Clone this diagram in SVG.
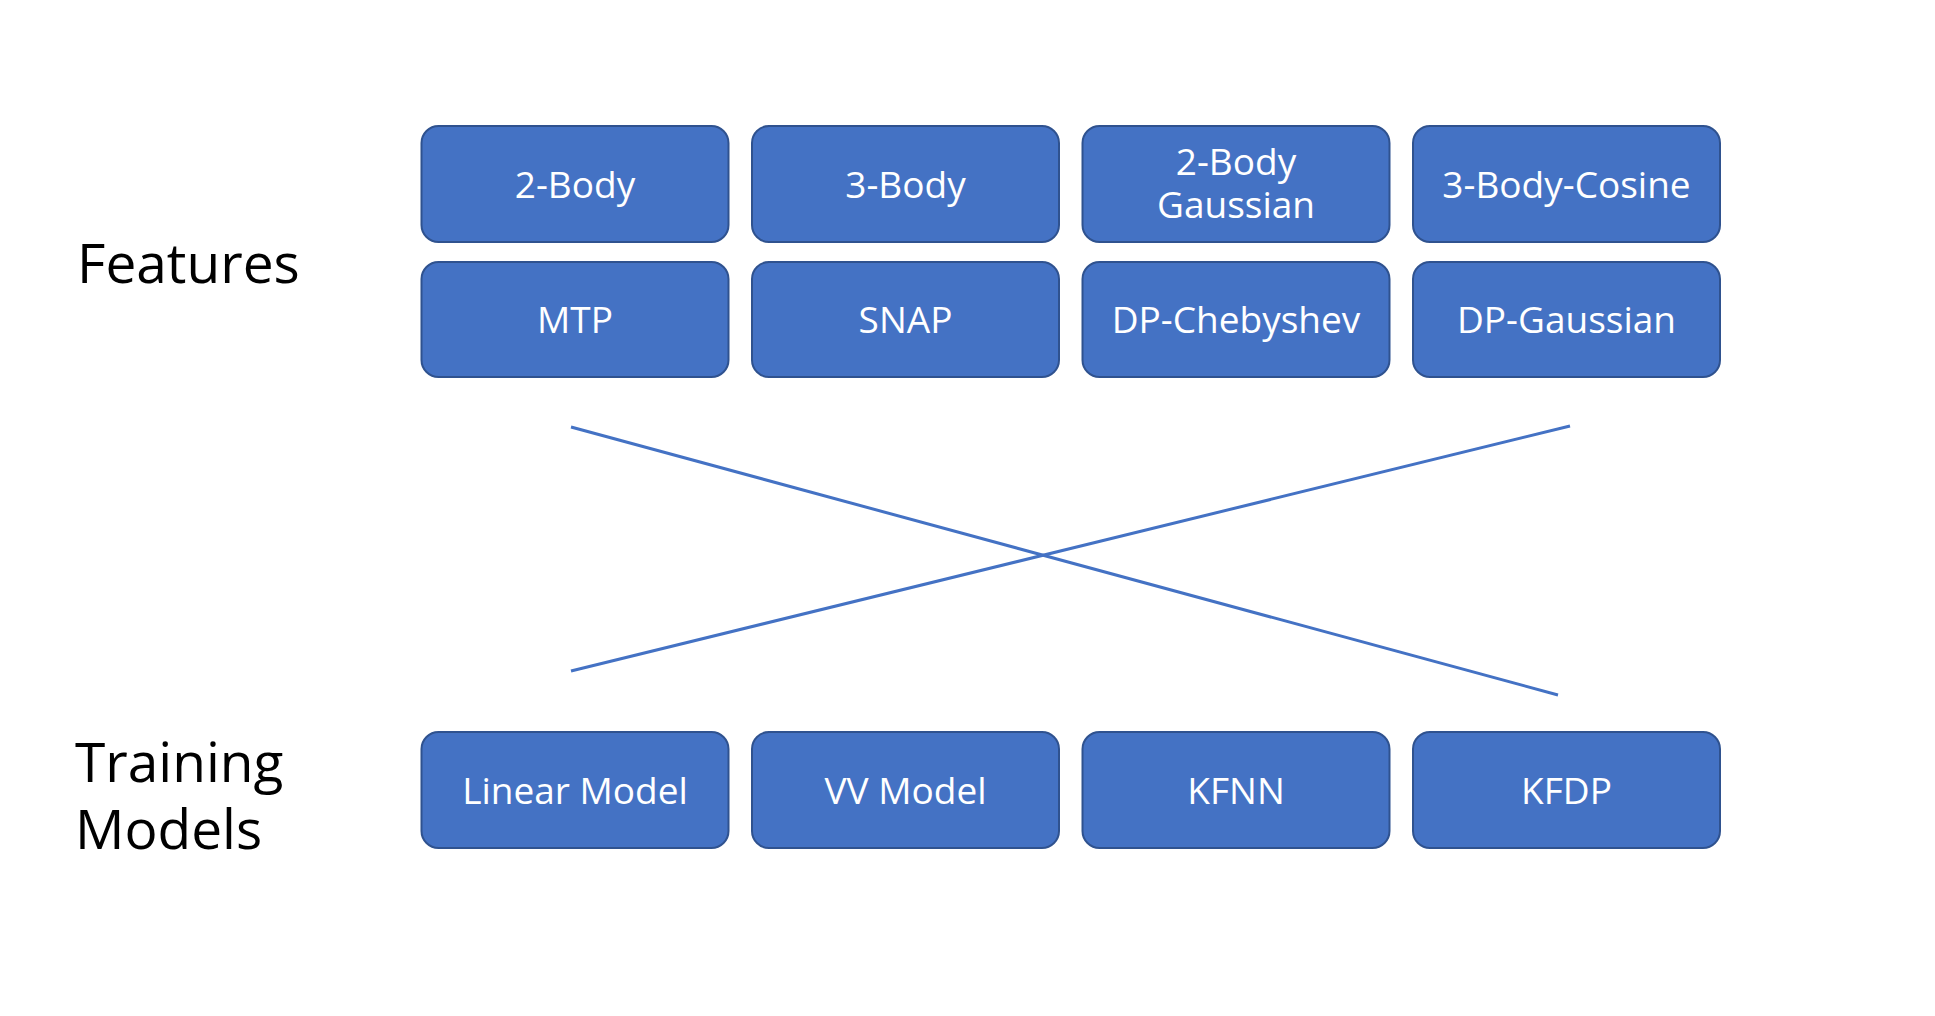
<svg xmlns="http://www.w3.org/2000/svg" width="1935" height="1016" viewBox="0 0 1935 1016">
<style>
.box{fill:#4472C4;stroke:#2F528F;stroke-width:2}
.bt{font-family:"Open Sans","Noto Sans","Liberation Sans",sans-serif;font-size:37px;fill:#FFFFFF;text-anchor:middle}
.lbl{font-family:"Open Sans","Noto Sans","Liberation Sans",sans-serif;font-size:55px;fill:#000000}
.conn{stroke:#4472C4;stroke-width:3;fill:none}
</style>
<rect width="1935" height="1016" fill="#FFFFFF"/>
<g id="label-features"><text class="lbl" x="77" y="283">Features</text></g>
<g id="label-training"><text class="lbl" x="75" y="782">Training</text><text class="lbl" x="75" y="849">Models</text></g>
<g id="connectors">
<line class="conn" x1="571" y1="427" x2="1558" y2="695"/>
<line class="conn" x1="571" y1="671" x2="1570" y2="426"/>
</g>
<g id="n-2body"><rect class="box" x="421.5" y="126" width="307" height="116" rx="17"/><text class="bt" x="575" y="198">2-Body</text></g>
<g id="n-3body"><rect class="box" x="752" y="126" width="307" height="116" rx="17"/><text class="bt" x="905.5" y="198">3-Body</text></g>
<g id="n-2bodygauss"><rect class="box" x="1082.5" y="126" width="307" height="116" rx="17"/><text class="bt" x="1236" y="175">2-Body</text><text class="bt" x="1236" y="218">Gaussian</text></g>
<g id="n-3bodycos"><rect class="box" x="1413" y="126" width="307" height="116" rx="17"/><text class="bt" x="1566.5" y="198">3-Body-Cosine</text></g>
<g id="n-mtp"><rect class="box" x="421.5" y="262" width="307" height="115" rx="17"/><text class="bt" x="575" y="333">MTP</text></g>
<g id="n-snap"><rect class="box" x="752" y="262" width="307" height="115" rx="17"/><text class="bt" x="905.5" y="333">SNAP</text></g>
<g id="n-dpcheb"><rect class="box" x="1082.5" y="262" width="307" height="115" rx="17"/><text class="bt" x="1236" y="333">DP-Chebyshev</text></g>
<g id="n-dpgauss"><rect class="box" x="1413" y="262" width="307" height="115" rx="17"/><text class="bt" x="1566.5" y="333">DP-Gaussian</text></g>
<g id="n-linear"><rect class="box" x="421.5" y="732" width="307" height="116" rx="17"/><text class="bt" x="575" y="804">Linear Model</text></g>
<g id="n-vv"><rect class="box" x="752" y="732" width="307" height="116" rx="17"/><text class="bt" x="905.5" y="804">VV Model</text></g>
<g id="n-kfnn"><rect class="box" x="1082.5" y="732" width="307" height="116" rx="17"/><text class="bt" x="1236" y="804">KFNN</text></g>
<g id="n-kfdp"><rect class="box" x="1413" y="732" width="307" height="116" rx="17"/><text class="bt" x="1566.5" y="804">KFDP</text></g>
</svg>
